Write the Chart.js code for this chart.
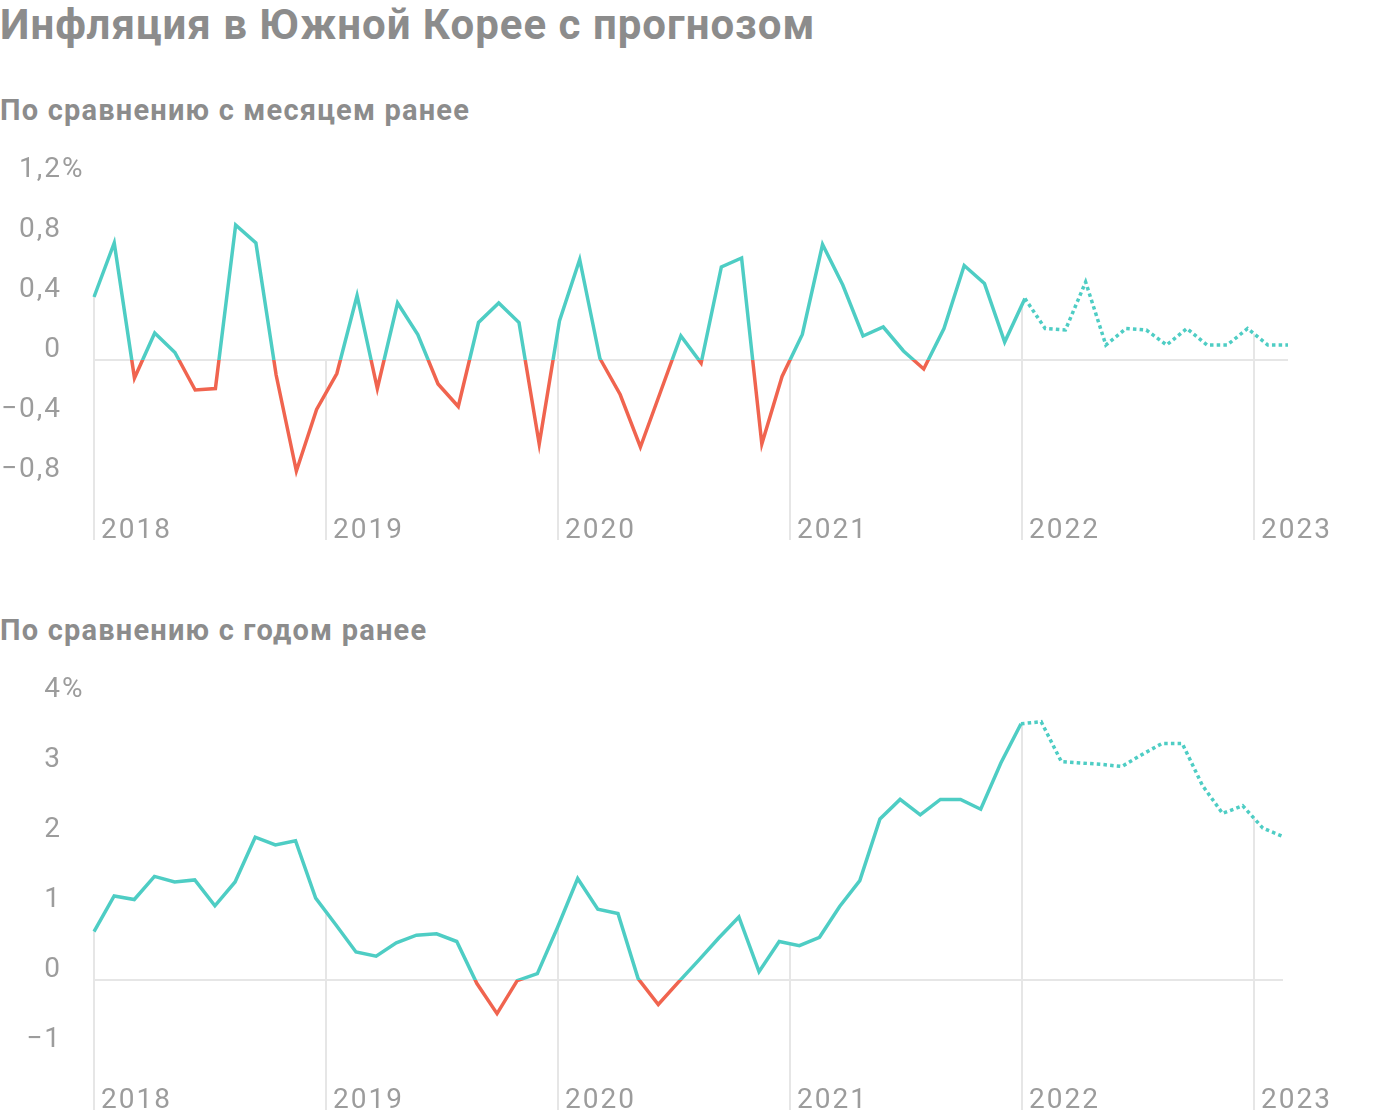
<!DOCTYPE html>
<html lang="ru">
<head>
<meta charset="utf-8">
<title>Инфляция в Южной Корее с прогнозом</title>
<script src="https://cdn.jsdelivr.net/npm/chart.js@4.4.1/dist/chart.umd.min.js"></script>
<style>
  html, body { margin: 0; padding: 0; background: #fff; }
  body { width: 1400px; height: 1120px; position: relative; overflow: hidden; font-family: Roboto, sans-serif; }
  .title { position: absolute; left: 0; top: 0; margin: 0; font: 700 42px/50px Roboto, sans-serif; letter-spacing: 1px; color: #8c8c8c; }
  .subtitle { position: absolute; left: 0; margin: 0; font: 700 29px/34px Roboto, sans-serif; letter-spacing: 1.2px; color: #8c8c8c; }
  canvas { position: absolute; left: 0; }
</style>
</head>
<body>
<h1 class="title">Инфляция в Южной Корее с прогнозом</h1>
<h2 class="subtitle" style="top: 93px;">По сравнению с месяцем ранее</h2>
<canvas id="momChart" width="1400" height="395" style="top: 150px;"></canvas>
<h2 class="subtitle" style="top: 613px;">По сравнению с годом ранее</h2>
<canvas id="yoyChart" width="1400" height="442" style="top: 670px;"></canvas>

<script>
// ---- data ----
const YEARS = [2018, 2019, 2020, 2021, 2022, 2023];
const YEAR_LABELS = ['2018', '2019', '2020', '2021', '2022', '2023'];
const MONTH_NAMES = ['янв', 'фев', 'мар', 'апр', 'май', 'июн', 'июл', 'авг', 'сен', 'окт', 'ноя', 'дек'];
const MONTHS = [];
[2018, 2019, 2020, 2021, 2022].forEach(y => MONTH_NAMES.forEach(m => MONTHS.push(m + ' ' + y)));

// last actual month index, everything after it is forecast
const LAST_ACTUAL = 46;

// month over month, %
const MOM = [
  0.42, 0.78, -0.12, 0.18, 0.05, -0.2, -0.19, 0.9, 0.78, -0.1,
  -0.74, -0.33, -0.09, 0.43, -0.19, 0.38, 0.17, -0.16, -0.31, 0.25,
  0.38, 0.25, -0.56, 0.26, 0.67, 0.01, -0.23, -0.58, -0.21, 0.16,
  -0.02, 0.62, 0.68, -0.56, -0.11, 0.17, 0.77, 0.5, 0.16, 0.22,
  0.06, -0.06, 0.21, 0.63, 0.51, 0.12, 0.41, 0.21, 0.2, 0.52,
  0.1, 0.21, 0.2, 0.1, 0.21, 0.1, 0.1, 0.21, 0.1, 0.1
];
const MOM_TICKS = [-0.8, -0.4, 0, 0.4, 0.8, 1.2];

// year over year, %
const YOY = [
  0.69, 1.2, 1.15, 1.48, 1.4, 1.43, 1.06, 1.4, 2.04, 1.93,
  1.99, 1.17, 0.79, 0.4, 0.34, 0.53, 0.64, 0.66, 0.55, -0.05,
  -0.48, -0.01, 0.09, 0.75, 1.45, 1.01, 0.95, 0.02, -0.35, -0.03,
  0.28, 0.6, 0.9, 0.12, 0.55, 0.49, 0.61, 1.05, 1.42, 2.3,
  2.58, 2.36, 2.58, 2.58, 2.44, 3.1, 3.66, 3.69, 3.12, 3.1,
  3.08, 3.05, 3.22, 3.38, 3.38, 2.78, 2.38, 2.49, 2.17, 2.05
];
const YOY_TICKS = [-1, 0, 1, 2, 3, 4];

// ---- styles ----
const TEAL = '#4ecdc4';
const RED = '#f0644f';
const GRID = '#e6e6e6';
const TICK = '#9c9c9c';
const TICK_FONT = { family: 'Roboto', size: 28, weight: '400' };
const TICK_SPACING = '2px';
const LABEL_PAD = 32;

// colour the line teal above zero and red below it
function splitColor(context) {
  const chart = context.chart;
  const { chartArea, scales } = chart;
  if (!chartArea) return TEAL;
  const zero = scales.y.getPixelForValue(0);
  const f = Math.min(1, Math.max(0, (zero - chartArea.top) / (chartArea.bottom - chartArea.top)));
  const g = chart.ctx.createLinearGradient(0, chartArea.top, 0, chartArea.bottom);
  g.addColorStop(0, TEAL);
  g.addColorStop(f, TEAL);
  g.addColorStop(f, RED);
  g.addColorStop(1, RED);
  return g;
}

function formatTick(v) {
  const s = Math.abs(v).toString().replace('.', ',');
  return (v < 0 ? '\u2212' : '') + s;
}

// wider tracking for all canvas text
const tracking = {
  id: 'tracking',
  beforeDraw(chart) { chart.ctx.letterSpacing = TICK_SPACING; }
};

// year gridlines: from the line (or zero, whichever is higher) down to the bottom
const yearGrid = {
  id: 'yearGrid',
  beforeDatasetsDraw(chart) {
    const { ctx, chartArea, scales } = chart;
    const pts = chart.getDatasetMeta(0).data;
    const zero = scales.y.getPixelForValue(0);
    ctx.save();
    YEARS.forEach((yr, i) => {
      const x = Math.round(scales.years.getPixelForValue(yr));
      let yLine = zero;
      for (let j = 0; j < pts.length - 1; j++) {
        if (pts[j].x <= x && x <= pts[j + 1].x) {
          const t = (x - pts[j].x) / (pts[j + 1].x - pts[j].x);
          yLine = pts[j].y + t * (pts[j + 1].y - pts[j].y);
          break;
        }
      }
      ctx.strokeStyle = GRID;
      ctx.lineWidth = 2;
      ctx.beginPath();
      ctx.moveTo(x, Math.min(yLine, zero));
      ctx.lineTo(x, chartArea.bottom);
      ctx.stroke();

      ctx.fillStyle = TICK;
      ctx.font = '400 28px Roboto';
      ctx.letterSpacing = TICK_SPACING;
      ctx.textAlign = 'left';
      ctx.textBaseline = 'alphabetic';
      ctx.fillText(YEAR_LABELS[i], x + 7, chartArea.bottom - 2);
    });
    ctx.restore();
  }
};

// hanging "%" after the top tick label
const percentSign = {
  id: 'percentSign',
  afterDraw(chart) {
    const { ctx, scales } = chart;
    const y = scales.y;
    const top = y.ticks[y.ticks.length - 1].value;
    ctx.save();
    ctx.fillStyle = TICK;
    ctx.font = '400 28px Roboto';
    ctx.letterSpacing = TICK_SPACING;
    ctx.textAlign = 'left';
    ctx.textBaseline = 'middle';
    ctx.fillText('%', y.right - LABEL_PAD, y.getPixelForValue(top) - 10);
    ctx.restore();
  }
};

function makeChart(canvasId, values, ticks, yMin, yMax, yearsMax, padRight, padBottom) {
  const ctx = document.getElementById(canvasId);
  return new Chart(ctx, {
    type: 'line',
    data: {
      labels: MONTHS,
      datasets: [{
        data: values,
        borderColor: splitColor,
        borderWidth: 3.5,
        borderJoinStyle: 'miter',
        pointRadius: 0,
        tension: 0,
        fill: false,
        segment: {
          borderColor: c => c.p0DataIndex >= LAST_ACTUAL ? TEAL : undefined,
          borderDash: c => c.p0DataIndex >= LAST_ACTUAL ? [3.5, 3.2] : undefined
        }
      }]
    },
    options: {
      responsive: false,
      animation: false,
      events: [],
      layout: { padding: { top: 30, right: padRight, bottom: padBottom, left: 0 } },
      plugins: { legend: { display: false }, tooltip: { enabled: false } },
      scales: {
        x: { type: 'category', display: false, offset: false },
        years: { type: 'linear', axis: 'x', position: 'bottom', display: false, min: 2018, max: yearsMax },
        y: {
          min: yMin,
          max: yMax,
          afterBuildTicks: s => { s.ticks = ticks.map(v => ({ value: v })); },
          afterFit: s => { s.width = 94; s.paddingTop = 0; s.paddingBottom = 0; },
          border: { display: false },
          grid: {
            drawTicks: false,
            lineWidth: 2,
            color: c => (c.tick && c.tick.value === 0 ? GRID : 'rgba(0,0,0,0)')
          },
          ticks: {
            color: TICK,
            font: TICK_FONT,
            padding: LABEL_PAD,
            labelOffset: -10,
            callback: v => formatTick(v)
          }
        }
      }
    },
    plugins: [tracking, yearGrid, percentSign]
  });
}

makeChart('momChart', MOM, MOM_TICKS, -1.2, 1.2, 2023.147, 112, 5);
makeChart('yoyChart', YOY, YOY_TICKS, -1.857, 4, 2023.126, 117, 2);
</script>
</body>
</html>
